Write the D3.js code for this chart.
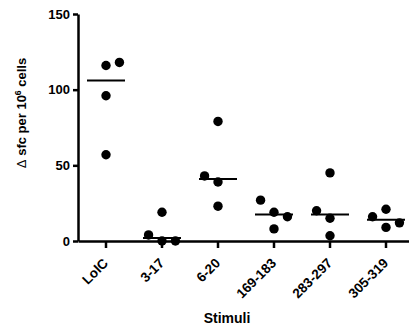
<!DOCTYPE html>
<html>
<head>
<meta charset="utf-8">
<script src="https://cdn.jsdelivr.net/npm/d3@7"></script>
<style>
  html, body { margin: 0; padding: 0; background: #fff; }
  svg { display: block; font-family: "Liberation Sans", Arial, sans-serif; }
</style>
</head>
<body>
<svg id="chart" width="409" height="331"></svg>
<script>
// ---- data ----
const categories = ["LolC", "3-17", "6-20", "169-183", "283-297", "305-319"];
const valuesLolC   = [57, 116, 118, 96];
const values3_17   = [0, 4, 0, 19];
const values6_20   = [39, 43, 23, 79];
const values169    = [19, 27, 16, 8];
const values283    = [15, 20, 3.5, 45];
const values305    = [21, 16, 9, 12];
const seriesValues = [valuesLolC, values3_17, values6_20, values169, values283, values305];
const yTicks = [0, 50, 100, 150];
const xTitle = "Stimuli";

// ---- layout ----
const svg = d3.select("#chart");
const mLeft = 78, mTop = 14, mBottom = 241;
const x = d3.scaleBand().domain(categories).range([mLeft, mLeft + 6 * 56]).paddingInner(0).paddingOuter(0);
const y = d3.scaleLinear().domain([0, 150]).range([mBottom, mTop]);
const r = 4.7;
const laneW = x.bandwidth() * 0.24;
const minGap = 13; // px vertical separation within a lane

// scatter with simple deterministic spreading of overlapping points
const points = [];
seriesValues.forEach((vals, ci) => {
  const placed = [];
  vals.forEach((v, i) => {
    const py = y(v);
    const pref = i % 2 === 0 ? [0, 1, -1] : [0, -1, 1];
    let lane = 0;
    for (const l of pref) {
      if (!placed.some(p => p.lane === l && Math.abs(p.py - py) < minGap)) { lane = l; break; }
    }
    placed.push({lane, py});
    points.push({cat: categories[ci], v, lane});
  });
});

// axes
const axisW = 2.5;
const yAxis = svg.append("g").attr("transform", `translate(${mLeft},0)`)
  .call(d3.axisLeft(y).tickValues(yTicks).tickSize(5).tickSizeOuter(0).tickPadding(3));
const xAxis = svg.append("g").attr("transform", `translate(0,${mBottom})`)
  .call(d3.axisBottom(x).tickSize(7).tickSizeOuter(0));

[yAxis, xAxis].forEach(g => {
  g.selectAll("path.domain").attr("stroke", "#000").attr("stroke-width", axisW);
  g.selectAll(".tick line").attr("stroke", "#000").attr("stroke-width", axisW);
});
yAxis.selectAll(".tick text")
  .attr("font-family", "Liberation Sans, Arial, sans-serif")
  .attr("font-size", 13).attr("font-weight", "bold").attr("fill", "#000");
xAxis.selectAll(".tick text")
  .attr("font-family", "Liberation Sans, Arial, sans-serif")
  .attr("font-size", 13.5).attr("font-weight", "bold").attr("fill", "#000")
  .attr("x", 0).attr("y", 0).attr("dy", 0)
  .attr("transform", "translate(3,23) rotate(-45)")
  .style("text-anchor", "end");

// medians
const cx = c => x(c) + x.bandwidth() / 2;
svg.append("g").selectAll("line").data(categories).join("line")
  .attr("x1", c => cx(c) - 19).attr("x2", c => cx(c) + 19)
  .attr("y1", (c, i) => y(d3.median(seriesValues[i])))
  .attr("y2", (c, i) => y(d3.median(seriesValues[i])))
  .attr("stroke", "#000").attr("stroke-width", 2);

// dots
svg.append("g").selectAll("circle").data(points).join("circle")
  .attr("cx", d => cx(d.cat) + d.lane * laneW)
  .attr("cy", d => y(d.v))
  .attr("r", r).attr("fill", "#000");

// titles
svg.append("text").attr("x", 227).attr("y", 323)
  .attr("text-anchor", "middle").attr("font-size", 14).attr("font-weight", "bold")
  .text(xTitle);

const yt = svg.append("text")
  .attr("transform", "translate(26,113) rotate(-90)")
  .attr("text-anchor", "middle").attr("font-size", 13).attr("font-weight", "bold");
yt.append("tspan").attr("font-weight", "normal").text("Δ");
yt.append("tspan").text(" sfc per 10");
yt.append("tspan").attr("font-size", 8.5).attr("dy", -5).text("6");
yt.append("tspan").attr("dy", 5).text(" cells");
</script>
</body>
</html>
